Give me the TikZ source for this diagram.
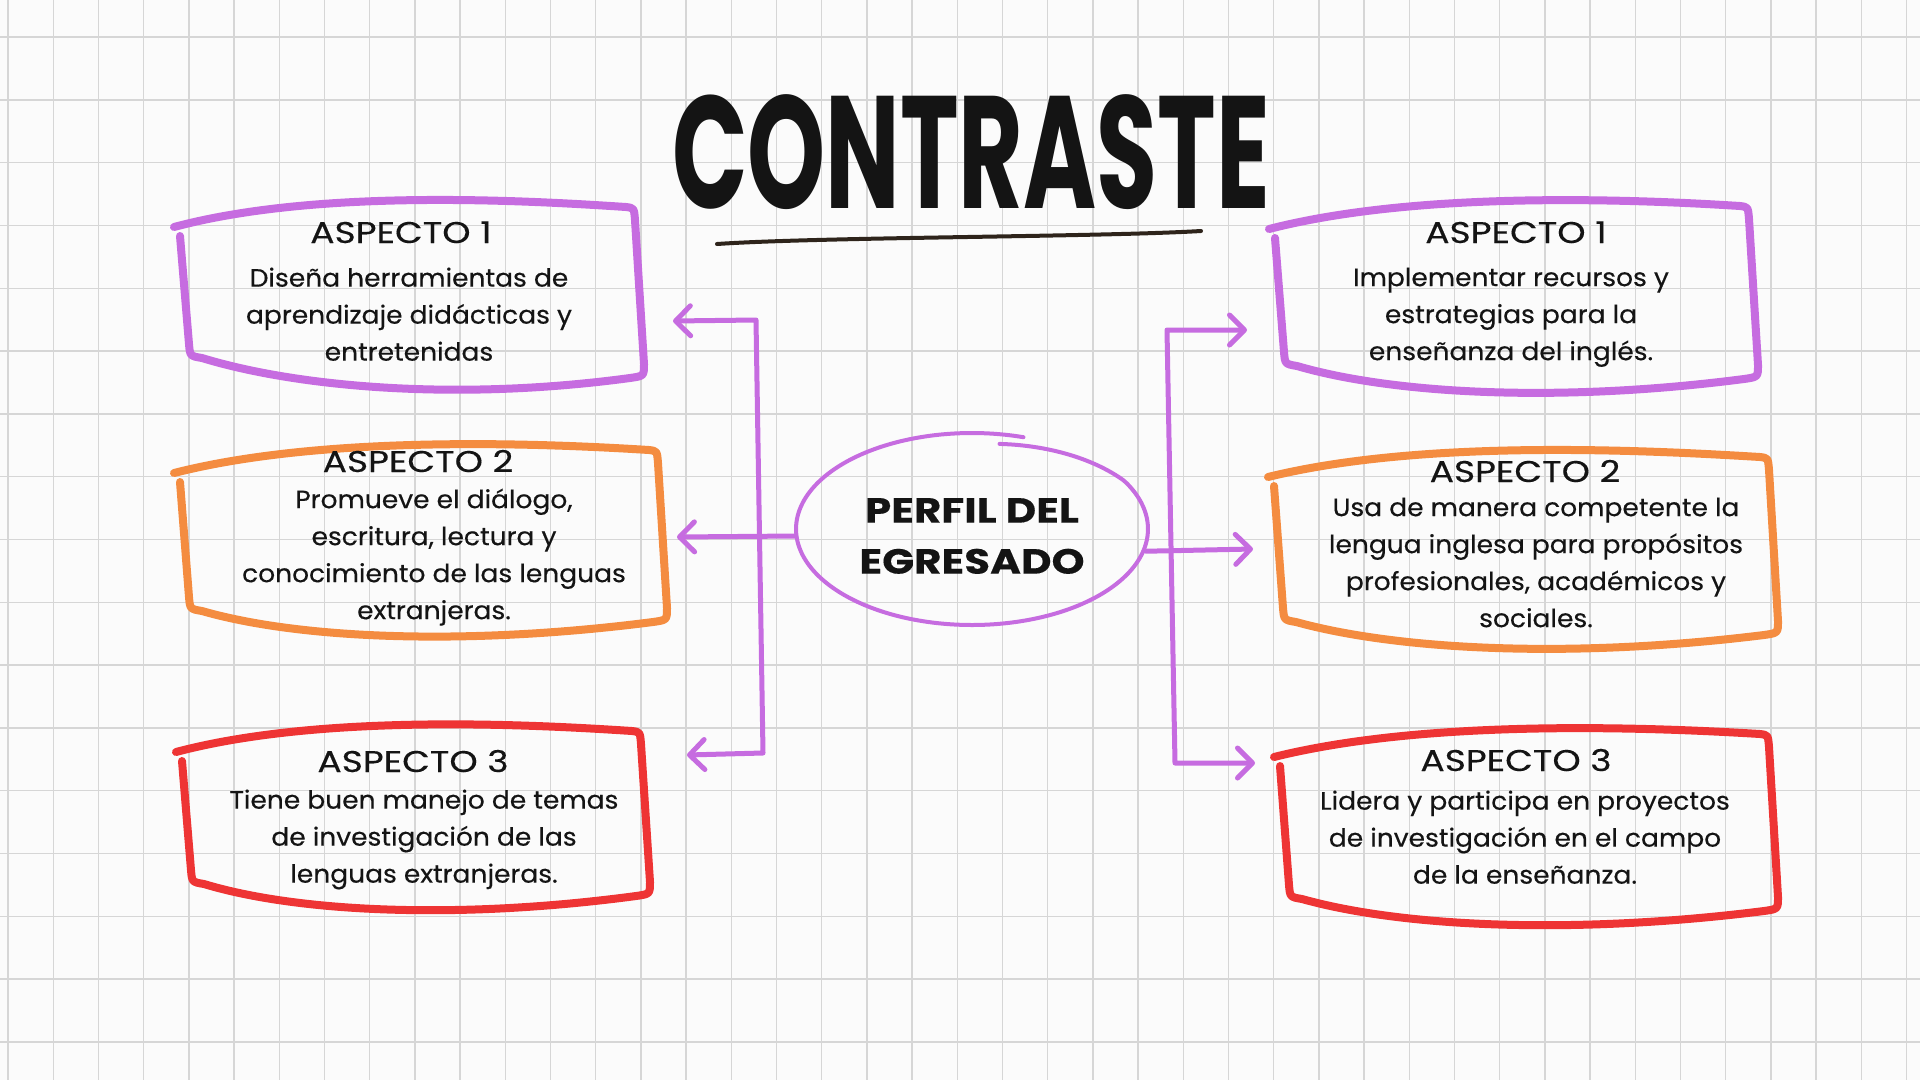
\documentclass[tikz,border=0pt]{standalone}
\usepackage{fontspec}
\setmainfont{Poppins}[FakeStretch=1.06, FakeBold=0.35]
\newfontfamily\titlefont{Poppins}[FakeStretch=0.62]
\newfontfamily\anchafont{Poppins}[FakeStretch=1.2, FakeBold=0.3]
\usepackage{tikz}
\usetikzlibrary{arrows.meta,positioning,shapes.geometric,calc}
\definecolor{lila}{HTML}{C66CE0}
\definecolor{naranja}{HTML}{F48C40}
\definecolor{rojo}{HTML}{EE3434}
\definecolor{tinta}{HTML}{141414}
\definecolor{papel}{HTML}{FBFBFB}
\definecolor{cuadro}{HTML}{D6D6D6}
\tikzset{
  rejilla/.style={draw=cuadro, line width=1.4pt},
  trazo/.style={line width=8pt, line cap=round, line join=round},
  flecha/.style={draw=lila, line width=5pt, line cap=round, line join=round},
  titulo/.style={font=\titlefont\fontsize{160}{160}\selectfont\bfseries,
                 anchor=base, inner sep=0pt, text=tinta},
  aspecto/.style={font=\anchafont\fontsize{30}{30}\selectfont, anchor=base,
                  inner sep=0pt, text=tinta},
  detalle/.style={font=\fontsize{25}{37}\selectfont, align=center,
                  inner sep=0pt, text=tinta},
}
% hand drawn frame: colour, left x, right x, top y left, top y right,
% bottom y left, bottom y right (y measured downwards)
\newcommand{\marco}[7]{%
  \draw[trazo, draw=#1]
    ({#2-6},{-(#4)}) .. controls ({#2+0.3*(#3-#2)},{-(#4-38)})
      and ({#2+0.75*(#3-#2)},{-(#5-8)}) .. ({#3-8},{-(#5-1)})
    .. controls ({#3},{-(#5)}) .. ({#3+1},{-(#5+12)})
    -- ({#3+10},{-(#7-12)})
    .. controls ({#3+10},{-(#7)}) .. ({#3-4},{-(#7+2)})
    .. controls ({#2+0.6*(#3-#2)},{-(#7+26)})
      and ({#2+0.25*(#3-#2)},{-(#6+30)}) .. ({#2+22},{-(#6+2)})
    .. controls ({#2+10},{-(#6)}) .. ({#2+9},{-(#6-12)})
    -- ({#2},{-(#4+9)});}

\begin{document}
\begin{tikzpicture}[x=1pt, y=1pt,
    >={Straight Barb[length=15pt,width=30pt,round]}]
  \useasboundingbox[fill=papel] (0,0) rectangle (1920,-1080);
  % squared paper
  \foreach \c in {0,...,42}
    \draw[rejilla] ({8+45.2*\c},0) -- ({8+45.2*\c},-1080);
  \foreach \r in {0,...,16}
    \draw[rejilla] (0,{-37-62.8*\r}) -- (1920,{-37-62.8*\r});
  % title
  \node[titulo] (titulo) at (971,-208) {CONTRASTE};
  \draw[line width=4pt, line cap=round, draw=tinta!85!brown]
    (717,-244) .. controls (820,-237) and (1100,-237) .. (1201,-231);
  % centre
  \node[ellipse, minimum width=352pt, minimum height=192pt, inner sep=0pt,
        align=center, text=tinta,
        font=\anchafont\fontsize{35}{51}\selectfont\bfseries]
    (perfil) at (972,-536) {PERFIL DEL\\EGRESADO};
  \draw[draw=lila, line width=4pt, line cap=round, smooth]
    plot[domain=-73:-440, samples=150]
      ({972+176*cos(\x)*(1-0.1*max(0,(-\x-390)/50))},
       {-529-96*sin(\x)*(1-0.1*max(0,(-\x-390)/50))});
  % left column
  \marco{lila}{180}{634}{227}{208}{356}{376}
  \node[aspecto] (asp1i) at (401,-243) {ASPECTO 1};
  \node[detalle, below=24pt of asp1i, xshift=8pt] (txt1i)
    {Diseña herramientas de\\aprendizaje didácticas y\\entretenidas};
  \marco{naranja}{180}{657}{473}{451}{609}{620}
  \node[aspecto] (asp2i) at (418,-472) {ASPECTO 2};
  \node[detalle, below=16pt of asp2i, xshift=16pt] (txt2i)
    {Promueve el diálogo,\\escritura, lectura y\\conocimiento de las lenguas\\extranjeras.};
  \marco{rojo}{182}{640}{752}{732}{882}{894}
  \node[aspecto] (asp3i) at (413,-772) {ASPECTO 3};
  \node[detalle, below=17pt of asp3i, xshift=11pt] (txt3i)
    {Tiene buen manejo de temas\\de investigación de las\\lenguas extranjeras.};
  % right column
  \marco{lila}{1275}{1748}{229}{207}{364}{377}
  \node[aspecto] (asp1d) at (1516,-243) {ASPECTO 1};
  \node[detalle, below=24pt of asp1d, xshift=-5pt] (txt1d)
    {Implementar recursos y\\estrategias para la\\enseñanza del inglés.};
  \marco{naranja}{1274}{1768}{477}{458}{620}{633}
  \node[aspecto] (asp2d) at (1525,-482) {ASPECTO 2};
  \node[detalle, below=15pt of asp2d, xshift=11pt] (txt2d)
    {Usa de manera competente la\\lengua inglesa para propósitos\\profesionales, académicos y\\sociales.};
  \marco{rojo}{1280}{1768}{757}{735}{897}{909}
  \node[aspecto] (asp3d) at (1516,-771) {ASPECTO 3};
  \node[detalle, below=19pt of asp3d, xshift=9pt] (txt3d)
    {Lidera y participa en proyectos\\de investigación en el campo\\de la enseñanza.};
  % brackets
  \coordinate (l1in) at (673,-321);
  \coordinate (l2in) at (677,-537);
  \coordinate (l3in) at (687,-755);
  \coordinate (lt) at (756,-320);
  \coordinate (lb) at (763,-753);
  \coordinate (r1in) at (1247,-330);
  \coordinate (r2in) at (1253,-549);
  \coordinate (r3in) at (1255,-763);
  \coordinate (rt) at (1167,-330);
  \coordinate (rb) at (1175,-763);
  \draw[flecha, <->] (l1in) -- (lt) -- (lb) -- (l3in);
  \draw[flecha, ->] (perfil.west) -- (l2in);
  \draw[flecha, <->] (r1in) -- (rt) -- (rb) -- (r3in);
  \draw[flecha, ->] (perfil.-5) -- (r2in);
\end{tikzpicture}
\end{document}
